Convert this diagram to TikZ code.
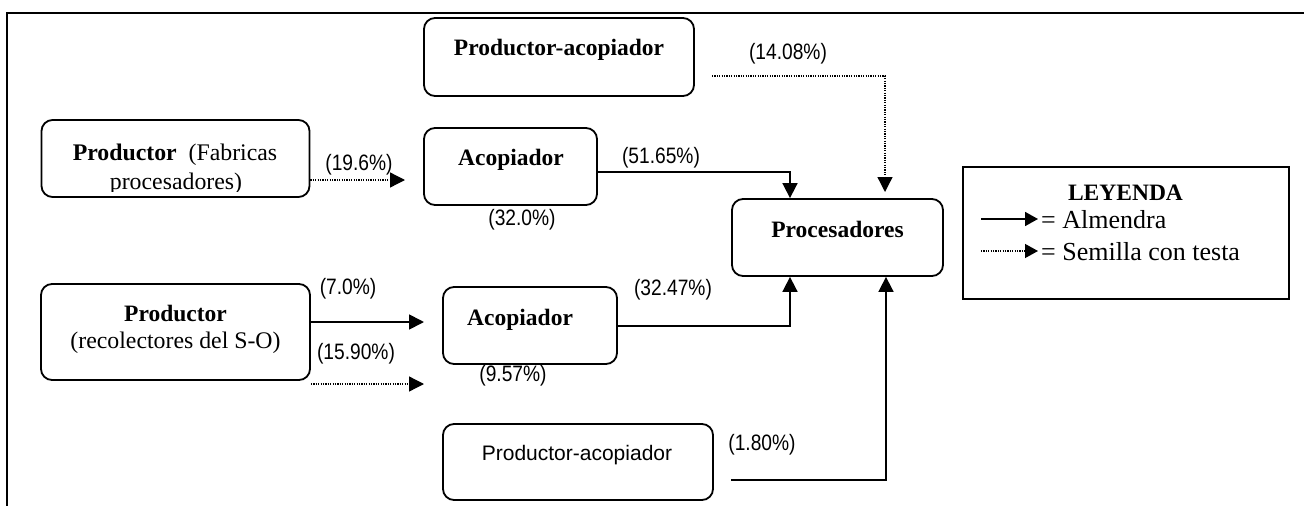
\documentclass[tikz,border=0pt]{standalone}
\usepackage{fontspec}
\setmainfont{Liberation Serif}
\newfontfamily\labfont[FakeStretch=0.86]{Liberation Sans}
\newfontfamily\sansfont{Liberation Sans}
\usetikzlibrary{arrows.meta}
\begin{document}
\begin{tikzpicture}[x=1pt,y=-1pt,
  box/.style={draw, line width=1.8pt, rounded corners=11pt, inner sep=0pt},
  txt/.style={inner sep=0pt, anchor=base, font=\fontsize{23.8}{26}\selectfont},
  ltxt/.style={inner sep=0pt, anchor=base west, font=\fontsize{26}{28}\selectfont},
  btxt/.style={inner sep=0pt, anchor=base, font=\fontsize{23.5}{26}\selectfont\bfseries},
  stxt/.style={inner sep=0pt, anchor=base, font=\fontsize{21}{24}\selectfont\sansfont},
  pct/.style={inner sep=0pt, anchor=base, font=\fontsize{22.3}{24}\selectfont\labfont},
  flow/.style={line width=1.7pt, -{Triangle[length=15pt,width=15pt]}},
  dflow/.style={line width=1.3pt, dash pattern=on 1.2pt off 1.2pt, -{Triangle[length=15pt,width=15pt]}},
  lflow/.style={flow, -{Triangle[length=13pt,width=14pt]}},
  ldflow/.style={dflow, -{Triangle[length=13pt,width=14pt]}},
]
\useasboundingbox (0,0) rectangle (1304,506);
% outer frame
\coordinate (fTL) at (7,13);
\coordinate (fTR) at (1304,13);
\coordinate (fBL) at (7,506);
\draw[line width=2pt] (fBL) -- (fTL) -- (fTR);

% boxes
\node[box, minimum width=268pt, minimum height=77pt] (pf) at (175.5,158.5) {};
\node[box, minimum width=270pt, minimum height=78pt] (pa1) at (559,57) {};
\node[box, minimum width=173pt, minimum height=77pt] (ac1) at (510.5,166.5) {};
\node[box, minimum width=211pt, minimum height=77pt] (pr) at (837.5,237.5) {};
\node[box, minimum width=269pt, minimum height=96pt] (pr2) at (175.5,332) {};
\node[box, minimum width=174pt, minimum height=77pt] (ac2) at (530,325.5) {};
\node[box, minimum width=270pt, minimum height=76pt] (pa2) at (578,462) {};
\node[draw, line width=1.8pt, minimum width=326pt, minimum height=132pt, inner sep=0pt] (leg) at (1126,233) {};

% box texts
\begin{scope}
\clip (41,120) rectangle (310,191);
\node[txt] (pft1) at (175,160) {\textbf{Productor}\ \ (Fabricas};
\node[txt] (pft2) at (176,189.5) {procesadores)};
\end{scope}
\node[btxt] (pa1t) at (559,55) {Productor-acopiador};
\node[btxt] (ac1t) at (511,165) {Acopiador};
\node[btxt] (prt) at (837.5,237) {Procesadores};
\node[btxt] (pr2t1) at (175.5,321) {Productor};
\node[txt] (pr2t2) at (175.5,348) {(recolectores del S-O)};
\node[btxt, anchor=base west] (ac2t) at (467,325) {Acopiador};
\node[stxt] (pa2t) at (577,460) {Productor-acopiador};

% connectors
\coordinate (e1) at (405,180);
\draw[dflow] (pf.east |- e1) -- (e1);
\coordinate (d0) at (712,76);
\coordinate (d1) at (885,192);
\draw[dflow] (d0) -| (d1);
\coordinate (k1) at (790,172);
\draw[flow] (ac1.east |- k1) -| (pr.north -| k1);
\coordinate (e2) at (424,322);
\draw[flow] (pr2.east |- e2) -- (e2);
\coordinate (e3) at (424,384);
\draw[dflow] (pr2.east |- e3) -- (e3);
\coordinate (k2) at (790,326);
\draw[flow] (ac2.east |- k2) -| (pr.south -| k2);
\coordinate (s4) at (731,480);
\coordinate (k4) at (886,480);
\draw[flow] (s4) -| (pr.south -| k4);

% percentages
\node[pct] (p196) at (359,170) {(19.6\%)};
\node[pct] (p1408) at (788,59) {(14.08\%)};
\node[pct] (p5165) at (661,163) {(51.65\%)};
\node[pct] (p320) at (522,225) {(32.0\%)};
\node[pct] (p70) at (348,294) {(7.0\%)};
\node[pct] (p1590) at (356,359) {(15.90\%)};
\node[pct] (p3247) at (673,295) {(32.47\%)};
\node[pct] (p957) at (513,381) {(9.57\%)};
\node[pct] (p180) at (762,450) {(1.80\%)};

% legend
\node[btxt] (legt) at (1125.5,200) {LEYENDA};
\coordinate (la1) at (981,219);
\coordinate (la2) at (1038,219);
\draw[lflow] (la1) -- (la2);
\node[ltxt] (lt1) at (1041,228) {= Almendra};
\coordinate (lb1) at (981,251);
\coordinate (lb2) at (1038,251);
\draw[ldflow] (lb1) -- (lb2);
\node[ltxt] (lt2) at (1041,260) {= Semilla con testa};
\end{tikzpicture}
\end{document}
